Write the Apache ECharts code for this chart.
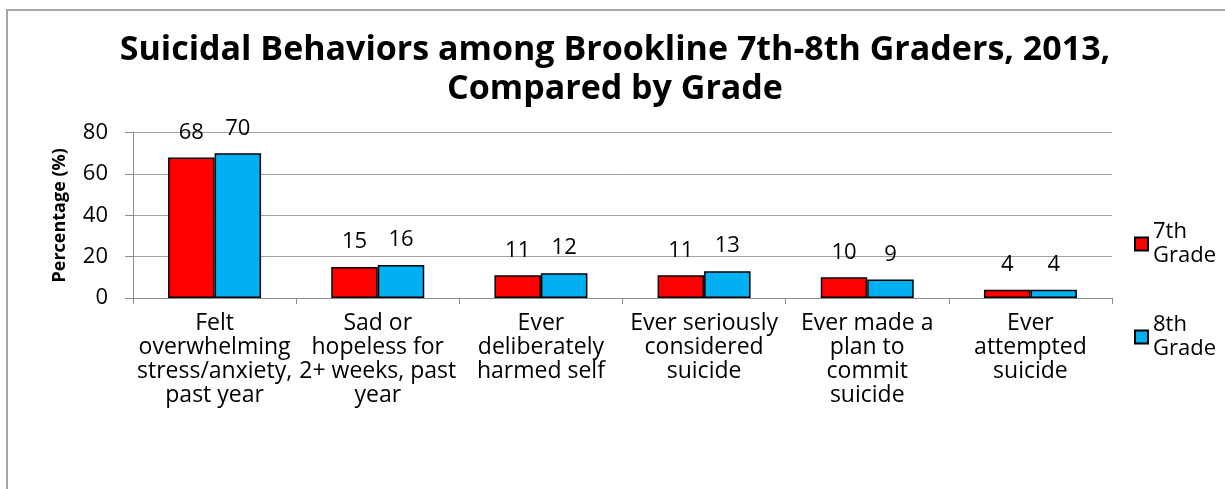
<!DOCTYPE html>
<html>
<head>
<meta charset="utf-8">
<script src="https://cdn.jsdelivr.net/npm/echarts@6/dist/echarts.min.js"></script>
<style>
  html, body { margin: 0; padding: 0; background: #fff; }
  #chart { width: 1225px; height: 489px; }
</style>
</head>
<body>
<div id="chart"></div>
<script>
// values
const categories = [
  'Felt\noverwhelming\nstress/anxiety,\npast year',
  'Sad or\nhopeless for\n2+ weeks, past\nyear',
  'Ever\ndeliberately\nharmed self',
  'Ever seriously\nconsidered\nsuicide',
  'Ever made a\nplan to\ncommit\nsuicide',
  'Ever\nattempted\nsuicide'
];
const grade7 = [68, 15, 11, 11, 10, 4];
const grade8 = [70, 16, 12, 13, 9, 4];
const yTicks = [0, 20, 40, 60, 80];

const FONT = 'Open Sans';
const axisGray = '#8c8c8c';

const chart = echarts.init(document.getElementById('chart'), null, { renderer: 'canvas' });

const barSeries = (name, data, color) => ({
  name: name,
  type: 'bar',
  data: data,
  barGap: '0%',
  barCategoryGap: '43%',
  itemStyle: { color: color, borderColor: '#000', borderWidth: 1.5 },
  label: {
    show: true,
    position: 'top',
    distance: 14,
    color: '#000',
    fontFamily: FONT,
    fontSize: 22
  }
});

chart.setOption({
  animation: false,
  backgroundColor: '#fff',
  textStyle: { fontFamily: FONT },
  graphic: [{
    type: 'rect',
    shape: { x: 7, y: 10, width: 1240, height: 500 },
    style: { fill: 'none', stroke: '#a6a6a6', lineWidth: 2 },
    silent: true
  }],
  title: {
    text: 'Suicidal Behaviors among Brookline 7th-8th Graders, 2013,\nCompared by Grade',
    left: 610,
    textAlign: 'center',
    top: 26,
    textStyle: {
      fontFamily: FONT,
      fontWeight: 'bold',
      fontSize: 34,
      lineHeight: 39,
      color: '#000'
    }
  },
  legend: {
    orient: 'vertical',
    left: 1129,
    top: 203,
    itemWidth: 13,
    itemHeight: 13,
    itemGap: 21,
    icon: 'rect',
    data: ['7th\nGrade', '8th\nGrade'],
    textStyle: {
      fontFamily: FONT,
      fontSize: 22,
      lineHeight: 24,
      color: '#000',
      padding: [24, 0, 0, 0]
    }
  },
  grid: { left: 133, right: 113, top: 132.7, bottom: 191 },
  xAxis: {
    type: 'category',
    data: categories,
    axisLine: { lineStyle: { color: axisGray, width: 1 } },
    axisTick: { show: true, length: 6, lineStyle: { color: axisGray } },
    axisLabel: {
      interval: 0,
      color: '#000',
      fontFamily: FONT,
      fontSize: 23,
      lineHeight: 24,
      margin: 13
    }
  },
  yAxis: {
    type: 'value',
    min: yTicks[0],
    max: yTicks[yTicks.length - 1],
    interval: 20,
    name: 'Percentage (%)',
    nameLocation: 'middle',
    nameGap: 64,
    nameTextStyle: {
      fontFamily: FONT,
      fontWeight: 'bold',
      fontSize: 18,
      color: '#000'
    },
    axisLine: { show: true, lineStyle: { color: axisGray, width: 1 } },
    axisTick: { show: true, length: 8, lineStyle: { color: axisGray } },
    axisLabel: { color: '#000', fontFamily: FONT, fontSize: 22, margin: 25 },
    splitLine: { lineStyle: { color: '#a0a0a0', width: 1 } }
  },
  series: [
    barSeries('7th\nGrade', grade7, '#ff0000'),
    barSeries('8th\nGrade', grade8, '#00b0f0')
  ]
});
</script>
</body>
</html>
